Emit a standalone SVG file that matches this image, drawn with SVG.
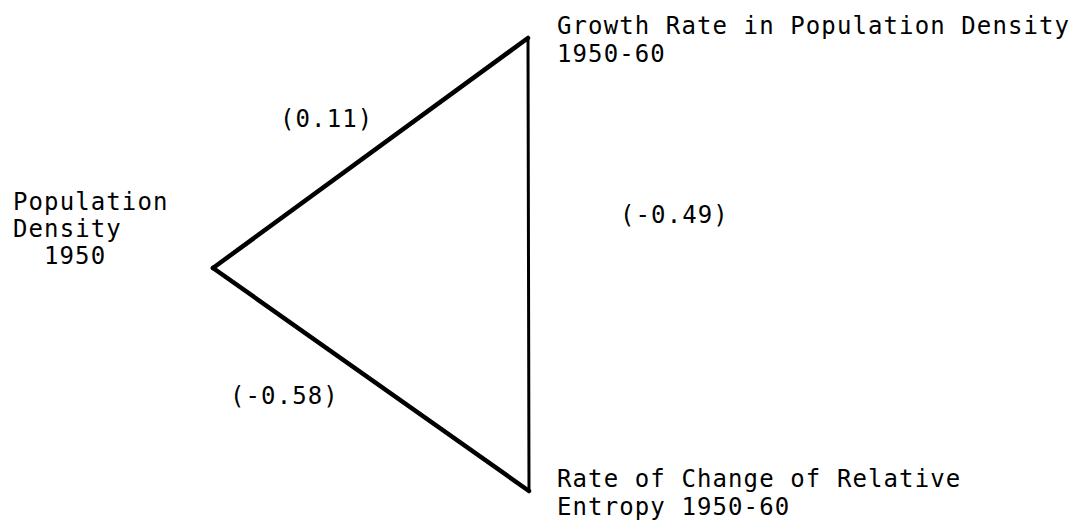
<svg xmlns="http://www.w3.org/2000/svg" width="1074" height="521" viewBox="0 0 1074 521">
<style>
text{font-family:"DejaVu Sans Mono","Liberation Mono",monospace;font-size:24px;letter-spacing:1.1px;fill:#000}
.e{stroke:#000;fill:none;stroke-linecap:round;stroke-linejoin:round}
</style>
<rect width="1074" height="521" fill="#fff"/>
<g id="connectors">
<line class="e" x1="213" y1="268" x2="528" y2="38" stroke-width="4.5"/>
<line class="e" x1="213" y1="268" x2="529" y2="491" stroke-width="4.5"/>
<line class="e" x1="528" y1="38" x2="529" y2="491" stroke-width="3"/>
<text x="280" y="127">(0.11)</text>
<text x="620" y="223">(-0.49)</text>
<text x="230" y="404">(-0.58)</text>
</g>
<g id="node-density">
<text x="13" y="210">Population</text>
<text x="13" y="237">Density</text>
<text x="44" y="264">1950</text>
</g>
<g id="node-growth">
<text x="557" y="34">Growth Rate in Population Density</text>
<text x="557" y="62">1950-60</text>
</g>
<g id="node-entropy">
<text x="557" y="487">Rate of Change of Relative</text>
<text x="557" y="515">Entropy 1950-60</text>
</g>
</svg>
